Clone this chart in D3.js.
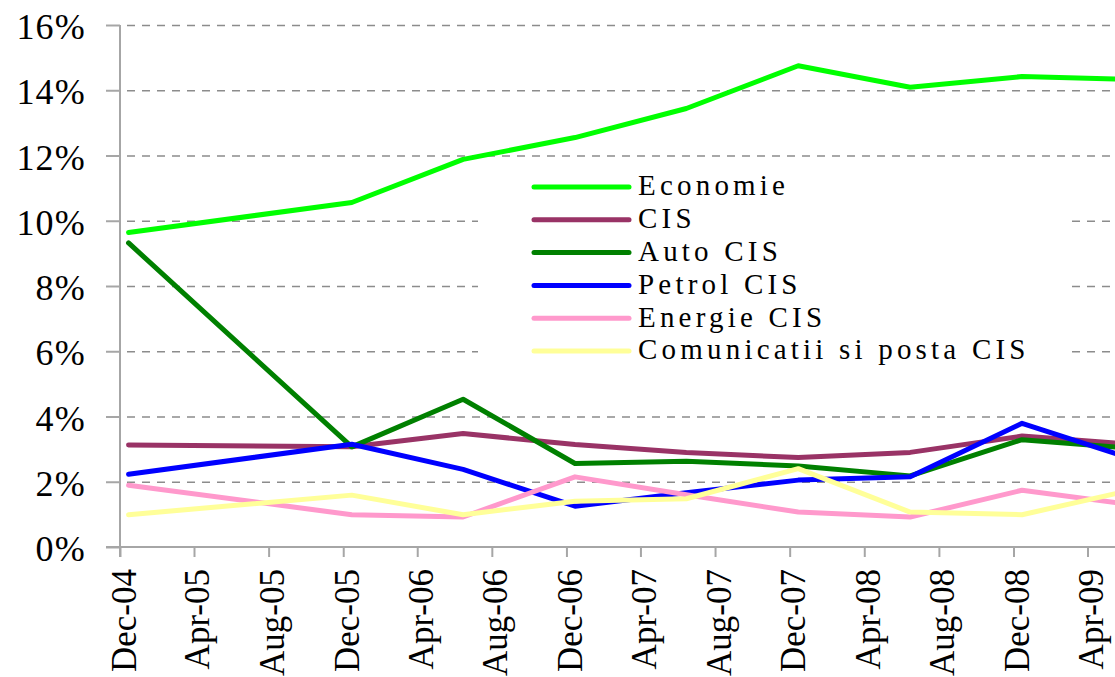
<!DOCTYPE html>
<html>
<head>
<meta charset="utf-8">
<script src="https://cdn.jsdelivr.net/npm/d3@7/dist/d3.min.js"></script>
<style>
  html, body { margin: 0; padding: 0; background: #fff; }
  svg { display: block; }
  svg text { font-family: "Liberation Serif", "Tinos", "Times New Roman", "DejaVu Serif", "Noto Serif", serif; fill: #000; }
</style>
</head>
<body>
<svg id="chart" width="1115" height="677"></svg>
<script>
// ---- data ----
const dates = ["2004-12-15","2005-12-15","2006-06-15","2006-12-15","2007-06-15","2007-12-15","2008-06-15","2008-12-15","2009-06-15"];
const seriesNames = ["Economie","CIS","Auto CIS","Petrol CIS","Energie CIS","Comunicatii si posta CIS"];
const seriesColors = ["#00ff00","#993366","#008000","#0000ff","#ff99cc","#ffff99"];
const economie    = [9.64, 10.56, 11.88, 12.55, 13.44, 14.75, 14.09, 14.42, 14.33];
const cis         = [3.13, 3.07, 3.48, 3.14, 2.90, 2.74, 2.90, 3.40, 3.15];
const autoCis     = [9.32, 3.07, 4.53, 2.56, 2.63, 2.48, 2.18, 3.29, 3.02];
const petrolCis   = [2.23, 3.15, 2.38, 1.25, 1.66, 2.05, 2.15, 3.79, 2.69];
const energieCis  = [1.89, 0.99, 0.92, 2.15, 1.60, 1.07, 0.92, 1.74, 1.29];
const comunicatii = [0.99, 1.59, 0.99, 1.40, 1.48, 2.40, 1.07, 0.99, 1.76];
const xTickLabels = ["Dec-04","Apr-05","Aug-05","Dec-05","Apr-06","Aug-06","Dec-06","Apr-07","Aug-07","Dec-07","Apr-08","Aug-08","Dec-08","Apr-09"];
const yTicks = [0, 2, 4, 6, 8, 10, 12, 14, 16];

const seriesValues = [economie, cis, autoCis, petrolCis, energieCis, comunicatii];
const FONT = "'Liberation Serif', 'Tinos', 'Times New Roman', 'DejaVu Serif', 'Noto Serif', serif";

// ---- scales ----
const parseDay = d3.utcParse("%Y-%m-%d");
const parseTick = d3.utcParse("%b-%y");
const tickDates = xTickLabels.map(parseTick);

const x = d3.scaleUtc()
  .domain([tickDates[0], tickDates[tickDates.length - 1]])
  .range([120, 1087.5]);
const y = d3.scaleLinear().domain([0, 16]).range([547, 25]);

const svg = d3.select("#chart");
svg.append("rect").attr("width", 1115).attr("height", 677).attr("fill", "#fff");

// ---- gridlines ----
const grid = svg.append("g").attr("transform", "translate(120,0)")
  .call(d3.axisRight(y).tickValues(yTicks.filter(v => v > 0)).tickSize(1100).tickFormat(""));
grid.select(".domain").remove();
grid.selectAll(".tick line")
  .attr("stroke", "#8c8c8c").attr("stroke-width", 1.3)
  .attr("stroke-dasharray", "8,7").attr("stroke-dashoffset", 8);

// ---- y axis ----
const yAxis = svg.append("g").attr("transform", "translate(120,0)")
  .call(d3.axisLeft(y).tickValues(yTicks).tickSize(14).tickSizeOuter(0).tickPadding(20)
    .tickFormat(d => d + "%"));
yAxis.attr("font-family", FONT);
yAxis.select(".domain").attr("stroke", "#a6a6a6").attr("stroke-width", 2)
  .attr("d", "M0,25V557");
yAxis.selectAll(".tick line").attr("stroke", "#a6a6a6").attr("stroke-width", 2);
yAxis.selectAll(".tick text")
  .attr("font-size", 36).attr("letter-spacing", 1.2)
  .attr("dy", null).attr("y", 13.5);

// ---- x axis ----
const xAxis = svg.append("g").attr("transform", "translate(0,547)")
  .call(d3.axisBottom(x).tickValues(tickDates).tickSize(10).tickSizeOuter(0)
    .tickFormat((d, i) => xTickLabels[i]));
xAxis.attr("font-family", FONT);
xAxis.select(".domain").attr("stroke", "#a6a6a6").attr("stroke-width", 2)
  .attr("d", "M106,0H1115");
xAxis.selectAll(".tick line").attr("stroke", "#a6a6a6").attr("stroke-width", 2);
xAxis.selectAll(".tick text")
  .attr("font-size", 35)
  .attr("text-anchor", "end")
  .attr("dy", null).attr("y", null)
  .attr("transform", "translate(0,22) rotate(-90)")
  .attr("x", 0).attr("dy", 15);

// ---- lines ----
const pts = dates.map(parseDay);
const line = d3.line().x(d => x(d[0])).y(d => y(d[1]));
seriesValues.forEach((vals, i) => {
  svg.append("path")
    .datum(vals.map((v, j) => [pts[j], v]))
    .attr("d", line)
    .attr("fill", "none")
    .attr("stroke", seriesColors[i])
    .attr("stroke-width", 5)
    .attr("stroke-linejoin", "round")
    .attr("stroke-linecap", "round");
});

// ---- legend ----
const legend = svg.append("g").attr("font-family", FONT);
legend.append("rect").attr("x", 478).attr("y", 168).attr("width", 594).attr("height", 204).attr("fill", "#fff");
seriesNames.forEach((name, i) => {
  const ly = 187 + i * 32.8;
  legend.append("line")
    .attr("x1", 534).attr("x2", 629).attr("y1", ly).attr("y2", ly)
    .attr("stroke", seriesColors[i]).attr("stroke-width", 5).attr("stroke-linecap", "round");
  legend.append("text")
    .attr("x", 638).attr("y", ly + 8.3)
    .attr("font-size", 29).attr("letter-spacing", 4.2)
    .text(name);
});
</script>
</body>
</html>
